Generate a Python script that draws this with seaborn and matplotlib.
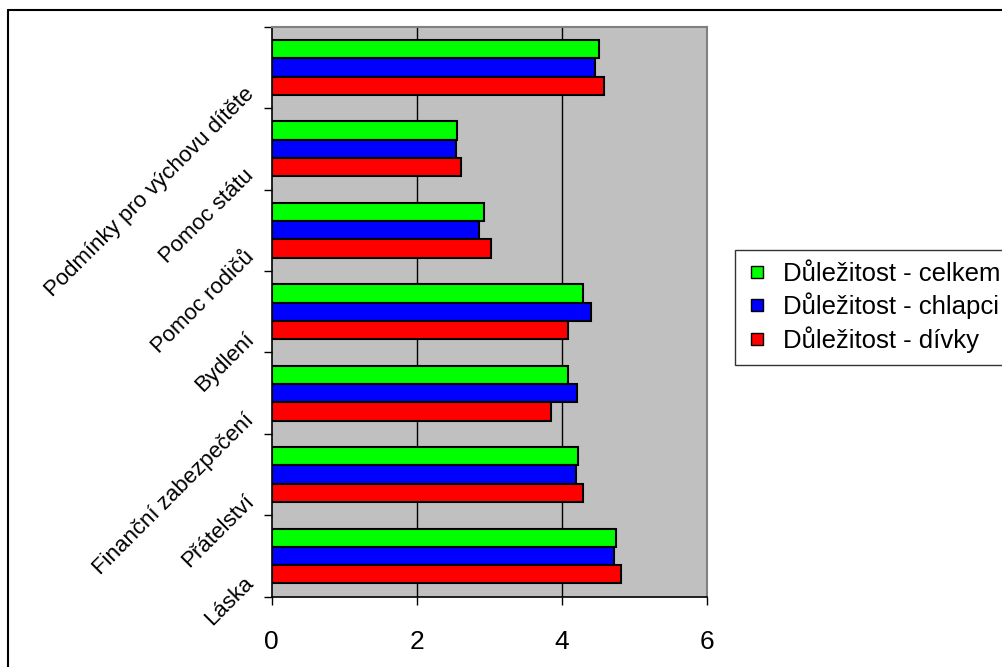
import numpy as np
import pandas as pd
import seaborn as sns
import matplotlib
matplotlib.use("Agg")
import matplotlib.pyplot as plt
from matplotlib.lines import Line2D
from matplotlib.transforms import ScaledTranslation

categories = ["Podmínky pro výchovu dítěte", "Pomoc státu", "Pomoc rodičů", "Bydlení",
              "Finanční zabezpečení", "Přátelství", "Láska"]
series = ["Důležitost - celkem", "Důležitost - chlapci", "Důležitost - dívky"]
celkem = [4.52, 2.56, 2.93, 4.30, 4.09, 4.23, 4.75]
chlapci = [4.46, 2.54, 2.86, 4.40, 4.21, 4.20, 4.72]
divky = [4.58, 2.61, 3.03, 4.09, 3.85, 4.30, 4.82]
colors = ["#00FF00", "#0000FF", "#FF0000"]
xticks = [0, 2, 4, 6]

df = pd.DataFrame({
    "cat": categories * 3,
    "val": celkem + chlapci + divky,
    "series": [series[0]] * 7 + [series[1]] * 7 + [series[2]] * 7,
})

sns.set_style("white")
plt.rcParams["font.family"] = ["Liberation Sans", "DejaVu Sans"]
plt.rcParams["text.color"] = "black"
plt.rcParams["xtick.color"] = "black"
plt.rcParams["ytick.color"] = "black"
plt.rcParams["xtick.labelcolor"] = "black"
plt.rcParams["ytick.labelcolor"] = "black"

fig = plt.figure(figsize=(10.03, 6.67), dpi=100)
ax = fig.add_axes([271.7 / 1003, 1 - 596.7 / 667, 435 / 1003, 570 / 667])
ax.set_facecolor("#C0C0C0")

sns.barplot(data=df, y="cat", x="val", hue="series", hue_order=series, order=categories,
            palette=colors, orient="h", width=0.675, edgecolor="black", linewidth=1.5,
            saturation=1, ax=ax, legend=False, zorder=3)

ax.set_xlim(0, 6)
ax.set_ylim(6.5, -0.5)
ax.set_xticks(xticks)
ax.set_xticklabels([str(t) for t in xticks], fontsize=19, color="black")
ax.tick_params(axis="x", length=6, width=1, color="black", pad=18, direction="out", bottom=True)

# category boundaries as major ticks, labels on minor ticks
ax.set_yticks(np.arange(-0.5, 7.0, 1.0))
ax.set_yticklabels([""] * 8)
ax.set_yticks(np.arange(0, 7), minor=True)
ax.set_yticklabels(categories, minor=True, fontsize=16, rotation=45, color="black",
                   ha="right", va="center", rotation_mode="anchor")
ax.tick_params(axis="y", which="major", length=6, width=1, color="black", direction="out", left=True)
ax.tick_params(axis="y", which="minor", length=0, pad=15)
offset = ScaledTranslation(0, -0.24, fig.dpi_scale_trans)
for lab in ax.get_yticklabels(minor=True):
    lab.set_transform(lab.get_transform() + offset)

ax.set_xlabel("")
ax.set_ylabel("")
ax.grid(False)
for x in xticks[1:-1]:
    ax.axvline(x, color="black", linewidth=1, zorder=1)

for s in ["left", "bottom"]:
    ax.spines[s].set_color("black")
    ax.spines[s].set_linewidth(1.2)
for s in ["top", "right"]:
    ax.spines[s].set_color("#808080")
    ax.spines[s].set_linewidth(1.5)

handles = [Line2D([0], [0], marker="s", linestyle="none", markersize=9,
                  markerfacecolor=c, markeredgecolor="black", markeredgewidth=1)
           for c in colors]
leg = fig.legend(handles, series, loc="upper left", bbox_to_anchor=(735 / 1003, 1 - 250 / 667),
                 fontsize=18.5, frameon=True, fancybox=False, edgecolor="black",
                 handlelength=0.8, handletextpad=0.6, labelspacing=0.28, borderpad=0.45,
                 borderaxespad=0, labelcolor="black")
leg.get_frame().set_linewidth(1)

# outer chart border (left and top visible)
fig.add_artist(Line2D([8 / 1003, 8 / 1003], [0, 1 - 10 / 667], color="black", linewidth=1.5,
                      transform=fig.transFigure))
fig.add_artist(Line2D([8 / 1003, 1], [1 - 10 / 667, 1 - 10 / 667], color="black", linewidth=1.5,
                      transform=fig.transFigure))

fig.savefig("out.png", dpi=100)
